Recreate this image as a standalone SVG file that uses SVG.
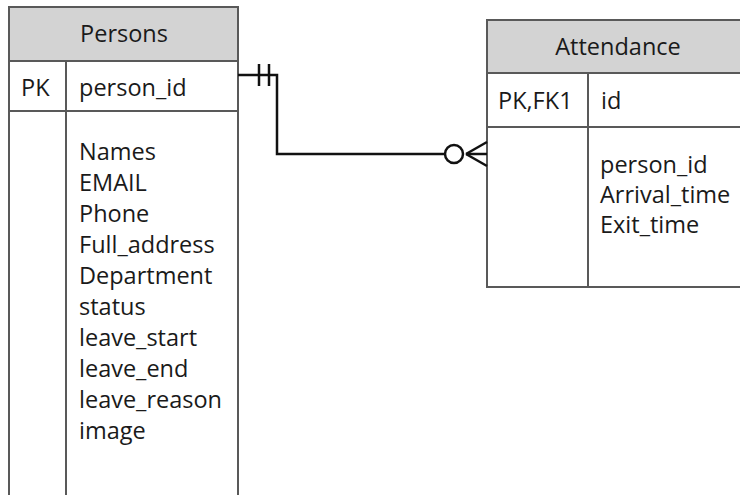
<svg xmlns="http://www.w3.org/2000/svg" width="740" height="495" viewBox="0 0 740 495">
  <style>
    .box { fill: #ffffff; stroke: #595959; stroke-width: 2; }
    .head { fill: #d3d3d3; stroke: #595959; stroke-width: 2; }
    .sep { stroke: #595959; stroke-width: 2; fill: none; }
    text { font-family: "Open Sans", "Liberation Sans", sans-serif; font-size: 23.5px; fill: #1a1a1a; }
    .title { text-anchor: middle; }
    .rel { stroke: #111111; stroke-width: 2.5; fill: none; }
  </style>

  <!-- Persons entity -->
  <g id="persons">
    <rect class="box" x="9" y="7" width="229" height="500"/>
    <rect class="head" x="9" y="7" width="229" height="54"/>
    <line class="sep" x1="9" y1="111" x2="238" y2="111"/>
    <line class="sep" x1="66" y1="61" x2="66" y2="500"/>
    <text class="title" x="124" y="42">Persons</text>
    <text x="21" y="96">PK</text>
    <text x="79" y="96">person_id</text>
    <text x="79" y="160">Names</text>
    <text x="79" y="191">EMAIL</text>
    <text x="79" y="222">Phone</text>
    <text x="79" y="253">Full_address</text>
    <text x="79" y="284">Department</text>
    <text x="79" y="315">status</text>
    <text x="79" y="346">leave_start</text>
    <text x="79" y="377">leave_end</text>
    <text x="79" y="408">leave_reason</text>
    <text x="79" y="439">image</text>
  </g>

  <!-- Attendance entity -->
  <g id="attendance">
    <rect class="box" x="487" y="20" width="270" height="267"/>
    <rect class="head" x="487" y="20" width="270" height="53"/>
    <line class="sep" x1="487" y1="127" x2="757" y2="127"/>
    <line class="sep" x1="588" y1="73" x2="588" y2="287"/>
    <text class="title" x="618" y="55">Attendance</text>
    <text x="498" y="109">PK,FK1</text>
    <text x="601" y="109">id</text>
    <text x="600" y="173">person_id</text>
    <text x="600" y="203">Arrival_time</text>
    <text x="600" y="233">Exit_time</text>
  </g>

  <!-- Relationship: one Person to zero-or-many Attendance -->
  <g id="connectors">
    <polyline class="rel" points="238,75 277,75 277,154 445,154"/>
    <line class="rel" x1="259" y1="64" x2="259" y2="86"/>
    <line class="rel" x1="269" y1="64" x2="269" y2="86"/>
    <circle class="rel" cx="454" cy="154" r="9"/>
    <line class="rel" x1="466" y1="154" x2="487" y2="142"/>
    <line class="rel" x1="466" y1="154" x2="487" y2="154"/>
    <line class="rel" x1="466" y1="154" x2="487" y2="166"/>
  </g>
</svg>
